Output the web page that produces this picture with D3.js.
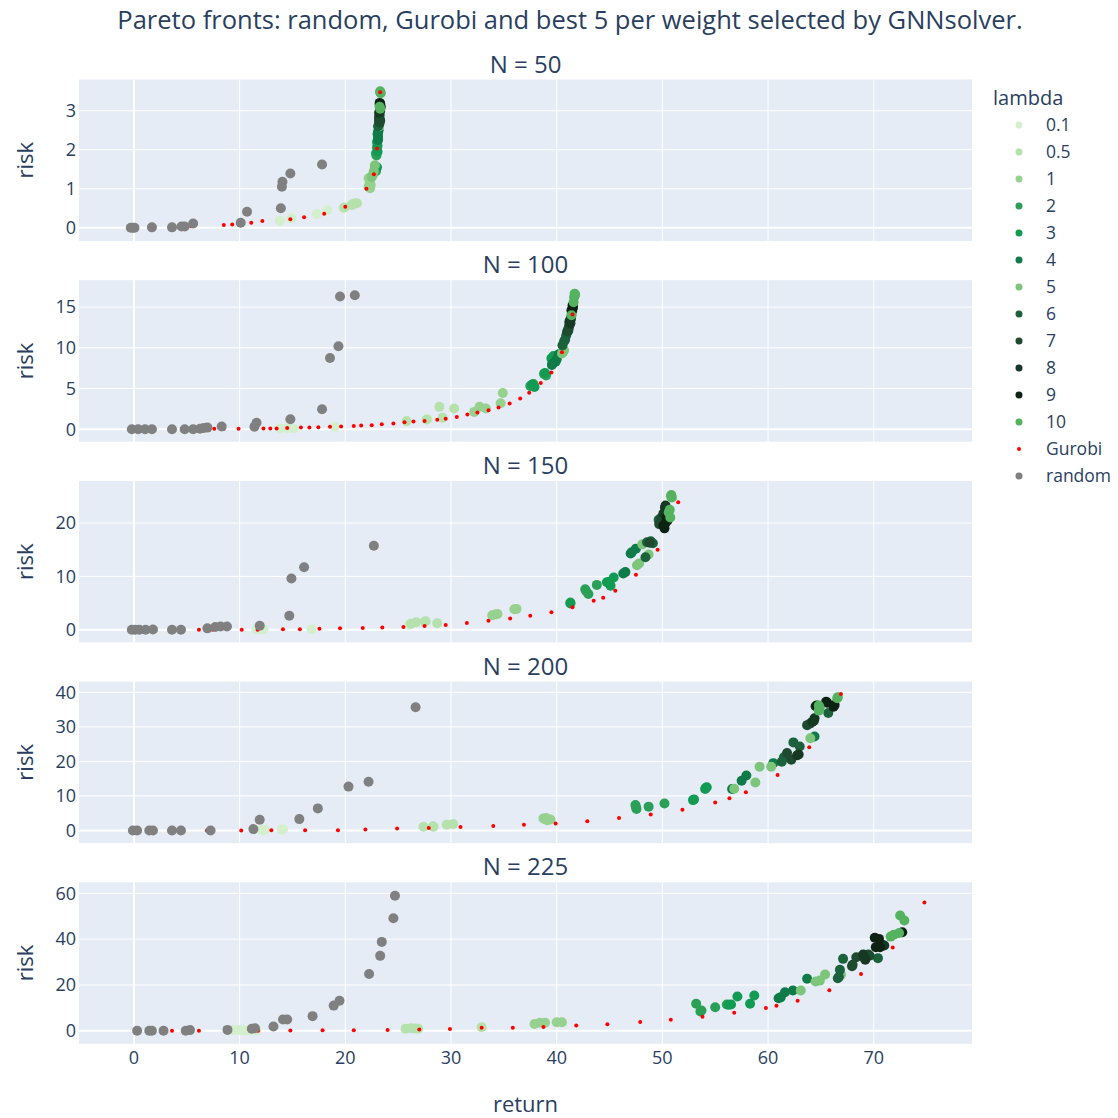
<!DOCTYPE html>
<html>
<head>
<meta charset="utf-8">
<script src="https://cdn.jsdelivr.net/npm/d3@7"></script>
<style>
  body { margin: 0; background: #fff; }
  text { font-family: "Open Sans", verdana, arial, sans-serif; fill: #2a3f5f; }
</style>
</head>
<body>
<div id="chart"></div>
<script>
// lambda categories and their colours
var lambdas = ["0.1", "0.5", "1", "2", "3", "4", "5", "6", "7", "8", "9", "10"];
var lambdaColors = ["#d3efcc", "#b5e1ad", "#97d18f", "#2aa057", "#119b53", "#0e7b48",
                    "#7dc57b", "#1b623c", "#1e4a2f", "#173822", "#0c2212", "#55b25f"];

var sizes = [50, 100, 150, 200, 225];
var xTicks = [0, 10, 20, 30, 40, 50, 60, 70];

// GNNsolver points: [lambda, return, risk]
var solver50 = [
  ["0.1",13.8,0.18],["0.1",14.9,0.24],["0.1",17.3,0.35],["0.1",18.3,0.45],["0.1",19.8,0.5],
  ["0.5",20.6,0.58],["0.5",20.9,0.62],["0.5",21.1,0.63],["0.5",20.7,0.6],["0.5",19.9,0.52],
  ["1",22.2,1.27],["1",22.35,1.01],["1",22.3,1.15],["1",22.4,1.1],["1",22.2,1.05],
  ["2",22.8,1.5],["2",22.9,1.45],["2",22.9,1.9],["2",23.0,2.05],["2",22.95,1.85],
  ["3",23.0,2.2],["3",23.05,2.1],["3",23.1,2.3],["3",23.05,1.95],["3",23.0,1.55],
  ["4",23.1,2.35],["4",23.1,2.45],["4",23.15,2.5],["4",23.05,2.4],["4",23.1,2.25],
  ["5",22.6,1.35],["5",22.7,1.45],["5",22.5,1.3],["5",23.2,2.6],["5",22.8,1.6],
  ["6",23.2,2.7],["6",23.2,2.65],["6",23.25,2.8],["6",23.1,2.6],["6",23.2,2.75],
  ["7",23.2,2.8],["7",23.25,2.9],["7",23.3,2.75],["7",23.2,2.85],["7",23.25,2.7],
  ["8",23.3,3.1],["8",23.25,3.15],["8",23.3,3.0],["8",23.2,2.95],["8",23.3,3.05],
  ["9",23.3,3.15],["9",23.35,3.1],["9",23.25,3.2],["9",23.3,3.12],["9",23.3,3.18],
  ["10",23.3,3.47],["10",23.3,3.05],["10",23.25,3.1],["10",23.35,3.45],["10",23.3,3.5]
];
var solver100 = [
  ["0.1",13.8,0.1],["0.1",14.5,0.12],["0.1",15.1,0.1],["0.1",19.0,0.3],["0.1",27.8,1.23],
  ["0.5",25.8,1.0],["0.5",28.9,2.75],["0.5",30.3,2.55],["0.5",29.2,1.4],["0.5",27.7,1.2],
  ["1",32.2,2.13],["1",32.7,2.75],["1",33.3,2.55],["1",34.7,3.2],["1",34.9,4.44],
  ["2",37.5,5.3],["2",37.8,5.55],["2",37.6,5.4],["2",38.8,6.8],["2",39.0,6.6],
  ["3",37.7,5.5],["3",39.7,9.0],["3",38.9,6.9],["3",37.9,5.2],["3",39.5,8.7],
  ["4",39.55,7.9],["4",39.9,8.3],["4",40.2,9.2],["4",40.0,8.6],["4",39.6,8.0],
  ["5",40.6,9.45],["5",40.5,9.3],["5",41.4,14.0],["5",41.3,13.5],["5",40.7,9.7],
  ["6",40.55,10.3],["6",40.9,11.5],["6",40.7,10.8],["6",41.0,11.9],["6",40.8,11.0],
  ["7",41.1,12.3],["7",41.2,12.8],["7",41.0,12.0],["7",41.15,12.5],["7",41.1,12.1],
  ["8",41.25,13.15],["8",41.3,13.4],["8",41.3,13.0],["8",41.35,13.6],["8",41.2,13.2],
  ["9",41.5,14.8],["9",41.45,14.5],["9",41.5,15.2],["9",41.55,15.0],["9",41.4,14.6],
  ["10",41.6,15.6],["10",41.7,16.65],["10",41.65,16.2],["10",41.4,14.0],["10",41.75,16.5]
];
var solver150 = [
  ["0.1",11.6,0.1],["0.1",12.25,0.1],["0.1",16.8,0.1],["0.1",12.0,0.05],["0.1",26.0,0.9],
  ["0.5",26.7,1.4],["0.5",27.6,1.6],["0.5",28.7,1.2],["0.5",26.2,1.1],["0.5",27.5,1.5],
  ["1",33.9,2.7],["1",34.4,2.95],["1",34.2,2.85],["1",36.2,3.9],["1",36.0,3.85],
  ["2",42.7,7.6],["2",43.0,6.7],["2",42.8,7.2],["2",43.8,8.4],["2",41.3,5.1],
  ["3",41.3,4.9],["3",44.75,8.9],["3",45.1,8.25],["3",45.4,9.8],["3",45.0,9.0],
  ["4",46.3,10.55],["4",47.0,14.3],["4",47.5,15.2],["4",46.5,10.8],["4",47.1,14.5],
  ["5",48.1,16.0],["5",47.6,12.1],["5",48.7,14.1],["5",47.8,12.4],["5",50.8,25.0],
  ["6",48.55,16.4],["6",49.1,16.2],["6",48.4,13.6],["6",49.65,20.6],["6",48.9,16.6],
  ["7",48.8,16.3],["7",49.9,21.0],["7",50.0,20.3],["7",49.7,19.8],["7",50.3,21.5],
  ["8",50.25,22.9],["8",50.4,22.5],["8",50.1,21.8],["8",50.3,23.3],["8",50.5,22.0],
  ["9",50.1,19.5],["9",50.2,19.0],["9",50.5,20.5],["9",50.3,20.0],["9",50.4,21.0],
  ["10",50.6,22.0],["10",50.75,21.05],["10",50.85,25.25],["10",50.9,24.8],["10",50.7,22.5]
];
var solver200 = [
  ["0.1",12.1,0.2],["0.1",12.4,0.2],["0.1",14.1,0.3],["0.1",12.2,0.1],["0.1",14.0,0.2],
  ["0.5",27.4,1.07],["0.5",28.35,1.1],["0.5",29.6,1.65],["0.5",30.2,1.85],["0.5",28.3,1.2],
  ["1",38.75,3.5],["1",39.4,3.2],["1",39.1,3.0],["1",39.0,3.6],["1",38.9,3.3],
  ["2",47.45,7.35],["2",47.55,6.2],["2",48.7,6.9],["2",47.5,6.8],["2",50.2,7.8],
  ["3",52.9,8.8],["3",54.05,12.0],["3",54.2,12.5],["3",53.0,9.0],["3",54.1,12.3],
  ["4",56.6,12.0],["4",57.95,15.9],["4",57.5,14.4],["4",60.5,19.5],["4",64.4,27.2],
  ["5",58.8,13.9],["5",59.2,18.45],["5",60.3,18.45],["5",64.0,26.7],["5",56.8,12.1],
  ["6",61.3,19.9],["6",61.5,21.2],["6",62.4,25.5],["6",63.0,24.3],["6",65.7,34.0],
  ["7",62.2,20.5],["7",63.7,30.5],["7",64.35,31.8],["7",61.8,22.4],["7",64.0,31.0],
  ["8",62.75,21.8],["8",64.5,35.95],["8",64.2,31.5],["8",62.9,22.0],["8",64.4,32.5],
  ["9",65.5,37.3],["9",66.3,36.3],["9",65.6,37.0],["9",66.2,35.8],["9",64.6,36.2],
  ["10",64.8,36.15],["10",64.8,34.7],["10",66.55,38.3],["10",64.9,35.5],["10",66.6,38.6]
];
var solver225 = [
  ["0.1",9.4,0.3],["0.1",10.0,0.3],["0.1",10.5,0.2],["0.1",11.0,0.3],["0.1",11.6,0.3],
  ["0.5",25.7,0.9],["0.5",26.2,1.1],["0.5",26.6,1.0],["0.5",26.9,0.9],["0.5",32.9,1.6],
  ["1",37.9,3.0],["1",38.4,3.5],["1",38.9,3.5],["1",40.0,3.75],["1",40.5,3.75],
  ["2",53.2,11.8],["2",53.6,8.4],["2",53.7,8.85],["2",55.0,10.3],["2",56.1,11.5],
  ["3",56.5,11.5],["3",57.1,15.0],["3",58.3,11.8],["3",58.7,15.4],["3",56.3,11.4],
  ["4",61.0,14.2],["4",61.6,16.85],["4",62.35,17.6],["4",63.7,22.7],["4",61.2,14.6],
  ["5",63.1,17.6],["5",64.5,21.5],["5",64.9,21.9],["5",65.4,24.55],["5",66.9,24.5],
  ["6",66.6,22.95],["6",66.8,26.6],["6",67.1,31.4],["6",70.4,31.7],["6",66.7,23.5],
  ["7",67.95,28.2],["7",68.35,32.1],["7",69.5,33.3],["7",68.0,28.8],["7",69.6,32.8],
  ["8",69.0,33.3],["8",69.2,31.0],["8",71.0,37.2],["8",69.1,32.0],["8",70.8,37.6],
  ["9",70.1,40.6],["9",70.5,40.1],["9",70.2,36.5],["9",70.6,36.5],["9",72.7,43.0],
  ["10",71.6,41.1],["10",71.9,41.9],["10",72.4,42.7],["10",72.5,50.3],["10",72.9,48.1]
];

// Gurobi fronts: [return, risk]
var gurobi50 = [[5.4,0.04],[8.5,0.07],[9.3,0.08],[11.1,0.13],[12.15,0.17],[14.8,0.22],[16.1,0.27],
  [18.0,0.36],[20.0,0.54],[22.0,1.0],[22.7,1.37],[23.0,2.03],[23.3,3.47]];
var gurobi100 = [[4.6,0.0],[7.6,0.05],[8.5,0.05],[9.9,0.05],[12.25,0.1],[12.9,0.1],[13.5,0.1],
  [14.5,0.15],[15.8,0.2],[16.6,0.2],[17.45,0.25],[18.55,0.3],[19.6,0.35],[20.8,0.4],[21.5,0.45],
  [22.5,0.5],[23.45,0.6],[24.55,0.7],[25.6,0.85],[26.45,0.95],[27.5,1.0],[28.7,1.15],[29.5,1.3],
  [30.55,1.5],[31.55,1.8],[32.5,2.05],[33.55,2.34],[34.5,2.67],[35.55,3.16],[36.55,3.78],
  [37.4,4.48],[38.5,5.67],[39.5,6.98],[40.5,9.45],[41.5,14.1]];
var gurobi150 = [[6.15,0],[7.45,0],[10.2,0],[11.7,0],[14.1,0.1],[15.7,0.1],[17.55,0.2],[19.5,0.25],
  [21.65,0.3],[23.5,0.4],[25.5,0.5],[27.5,0.7],[29.5,0.9],[31.5,1.25],[33.55,1.7],[35.6,2.1],
  [37.5,2.6],[39.5,3.25],[41.5,4.2],[43.5,5.45],[44.4,6.0],[45.55,7.3],[47.5,10.3],[49.55,15.0],
  [51.5,23.9]];
var gurobi200 = [[6.9,0],[10.15,0],[13.0,0.1],[16.2,0.1],[19.3,0.1],[21.9,0.3],[24.9,0.6],[27.9,0.7],
  [30.9,1.0],[34.0,1.27],[36.9,1.65],[39.9,2.0],[42.9,2.7],[45.9,3.6],[48.9,4.65],[51.9,6.0],
  [55.0,8.1],[56.35,9.3],[57.9,11.1],[60.9,16.05],[63.9,24.1],[66.9,39.5]];
var gurobi225 = [[3.6,0],[6.15,0],[11.75,0],[14.8,0.1],[17.85,0.2],[20.8,0.2],[24.0,0.4],[27.0,0.6],
  [29.9,0.8],[32.9,1.3],[35.85,1.3],[38.75,1.7],[41.85,2.3],[44.8,2.9],[47.9,3.8],[50.8,4.8],
  [53.8,6.1],[56.8,7.85],[59.8,10.0],[60.8,10.9],[62.8,13.1],[65.8,17.7],[68.8,24.8],[71.8,36.3],
  [74.8,56.0]];

// random portfolios: [return, risk]
var random50 = [[-0.3,0],[-0.1,0],[0.05,0],[1.7,0.01],[3.6,0.01],[4.5,0.03],[4.8,0.03],[5.6,0.11],
  [10.1,0.13],[10.7,0.41],[13.9,0.5],[14.0,1.05],[14.05,1.18],[14.8,1.39],[17.8,1.62]];
var random100 = [[-0.2,0],[0.4,0],[1.05,0],[1.7,0],[3.6,0],[4.8,0],[5.6,0],[6.25,0.05],[6.6,0.15],
  [6.95,0.2],[8.3,0.33],[11.4,0.3],[11.6,0.8],[14.8,1.23],[17.8,2.46],[18.55,8.75],[19.35,10.2],
  [19.5,16.3],[20.9,16.45]];
var random150 = [[-0.2,0],[0.1,0],[0.5,0],[1.1,0],[1.8,0.05],[3.6,0],[4.45,0],[6.95,0.25],[7.7,0.5],
  [8.2,0.6],[8.8,0.6],[11.9,0.75],[14.7,2.6],[14.9,9.6],[16.1,11.7],[22.7,15.75]];
var random200 = [[-0.1,0],[0.3,0],[1.45,0],[1.8,0],[3.6,0],[4.45,0],[7.25,0],[11.3,0.4],[11.9,3.1],
  [15.65,3.3],[17.4,6.4],[20.3,12.7],[22.2,14.1],[26.65,35.65]];
var random225 = [[0.3,0],[1.45,0],[1.7,0],[2.8,0],[4.9,0],[5.3,0.3],[8.85,0.4],[11.15,0.9],
  [11.45,1.15],[13.2,1.9],[14.1,4.9],[14.5,4.9],[16.9,6.4],[18.9,11.0],[19.45,13.1],[22.25,24.8],
  [23.3,32.7],[23.45,38.8],[24.55,49.1],[24.7,58.9]];

var yTickSets = [[0, 1, 2, 3], [0, 5, 10, 15], [0, 10, 20], [0, 10, 20, 30, 40], [0, 20, 40, 60]];

// chart setup
var svgWidth = 1118, svgHeight = 1118;
var left = 79, right = 972;
var panelTop = 79.5, panelHeight = 161.5, panelStep = 200.7;
var yRanges = [[-0.34, 3.80], [-1.53, 18.3], [-2.38, 27.9], [-3.65, 43.1], [-5.67, 64.8]];

var panels = [
  { n: sizes[0], green: solver50, gurobi: gurobi50, random: random50 },
  { n: sizes[1], green: solver100, gurobi: gurobi100, random: random100 },
  { n: sizes[2], green: solver150, gurobi: gurobi150, random: random150 },
  { n: sizes[3], green: solver200, gurobi: gurobi200, random: random200 },
  { n: sizes[4], green: solver225, gurobi: gurobi225, random: random225 }
];

var color = d3.scaleOrdinal().domain(lambdas).range(lambdaColors);
var lambdaOrder = d3.scaleOrdinal().domain(lambdas).range(d3.range(lambdas.length));

var svg = d3.select("#chart").append("svg")
  .attr("width", svgWidth)
  .attr("height", svgHeight);

svg.append("rect").attr("width", svgWidth).attr("height", svgHeight).attr("fill", "#fff");

var x = d3.scaleLinear().domain([-5.2, 79.3]).range([left, right]);

// title
svg.append("text")
  .attr("x", 570)
  .attr("y", 29)
  .attr("text-anchor", "middle")
  .style("font-size", "25.5px")
  .text("Pareto fronts: random, Gurobi and best 5 per weight selected by GNNsolver.");

panels.forEach(function(p, i) {
  var top = panelTop + i * panelStep;
  var bottom = top + panelHeight;
  var y = d3.scaleLinear().domain(yRanges[i]).range([bottom, top]);
  var g = svg.append("g");

  g.append("rect")
    .attr("x", left).attr("y", top)
    .attr("width", right - left).attr("height", panelHeight)
    .attr("fill", "#E5ECF6");

  // grid lines
  g.selectAll(".xgrid").data(xTicks).enter().append("line")
    .attr("x1", d => x(d)).attr("x2", d => x(d))
    .attr("y1", top).attr("y2", bottom)
    .attr("stroke", "#fff")
    .attr("stroke-width", d => d === 0 ? 2 : 1);

  g.selectAll(".ygrid").data(yTickSets[i]).enter().append("line")
    .attr("x1", left).attr("x2", right)
    .attr("y1", d => y(d)).attr("y2", d => y(d))
    .attr("stroke", "#fff")
    .attr("stroke-width", d => d === 0 ? 2 : 1);

  // y tick labels
  g.selectAll(".ylab").data(yTickSets[i]).enter().append("text")
    .attr("x", left - 3)
    .attr("y", d => y(d))
    .attr("dy", "0.35em")
    .attr("text-anchor", "end")
    .style("font-size", "18px")
    .text(d => d);

  // axis title
  g.append("text")
    .attr("transform", `translate(33, ${(top + bottom) / 2}) rotate(-90)`)
    .attr("text-anchor", "middle")
    .style("font-size", "22px")
    .text("risk");

  // subplot title
  g.append("text")
    .attr("x", (left + right) / 2)
    .attr("y", top - 7)
    .attr("text-anchor", "middle")
    .style("font-size", "24px")
    .text("N = " + p.n);

  var clipId = "clip" + i;
  g.append("clipPath").attr("id", clipId).append("rect")
    .attr("x", left).attr("y", top)
    .attr("width", right - left).attr("height", panelHeight);

  var marks = g.append("g").attr("clip-path", `url(#${clipId})`);

  var greens = p.green.slice().sort((a, b) => lambdaOrder(a[0]) - lambdaOrder(b[0]));
  marks.selectAll(".gnn").data(greens).enter().append("circle")
    .attr("cx", d => x(d[1]))
    .attr("cy", d => y(d[2]))
    .attr("r", 5)
    .attr("fill", d => color(d[0]));

  marks.selectAll(".gurobi").data(p.gurobi).enter().append("circle")
    .attr("cx", d => x(d[0]))
    .attr("cy", d => y(d[1]))
    .attr("r", 2)
    .attr("fill", "red");

  marks.selectAll(".random").data(p.random).enter().append("circle")
    .attr("cx", d => x(d[0]))
    .attr("cy", d => y(d[1]))
    .attr("r", 5)
    .attr("fill", "grey");

  // x tick labels on the bottom panel only
  if (i === panels.length - 1) {
    g.selectAll(".xlab").data(xTicks).enter().append("text")
      .attr("x", d => x(d))
      .attr("y", bottom + 20)
      .attr("text-anchor", "middle")
      .style("font-size", "18px")
      .text(d => d);
  }
});

svg.append("text")
  .attr("x", (left + right) / 2)
  .attr("y", 1112)
  .attr("text-anchor", "middle")
  .style("font-size", "22px")
  .text("return");

// legend
var legendItems = lambdas.map(l => ({ label: l, color: color(l), r: 3.5 }))
  .concat([{ label: "Gurobi", color: "red", r: 2 }, { label: "random", color: "grey", r: 3.5 }]);

var legend = svg.append("g");
legend.append("text")
  .attr("x", 993).attr("y", 98).attr("dy", "0.35em")
  .style("font-size", "20px")
  .text("lambda");

var item = legend.selectAll(".item").data(legendItems).enter().append("g")
  .attr("transform", (d, k) => `translate(1019, ${125 + k * 27})`);
item.append("circle").attr("r", d => d.r).attr("fill", d => d.color);
item.append("text")
  .attr("x", 27).attr("dy", "0.35em")
  .style("font-size", "17.5px")
  .text(d => d.label);
</script>
</body>
</html>
